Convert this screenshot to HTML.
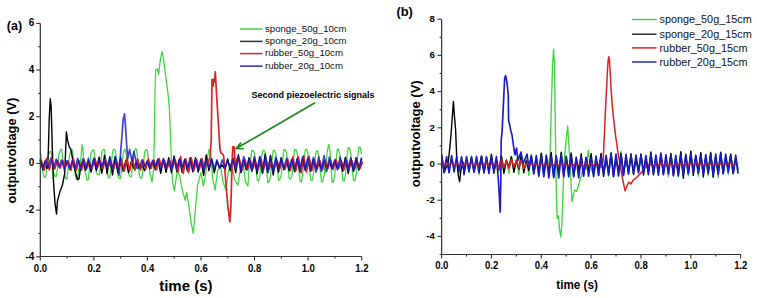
<!DOCTYPE html>
<html><head><meta charset="utf-8"><style>html,body{margin:0;padding:0;background:#fff;width:757px;height:298px;overflow:hidden}svg{display:block}</style></head>
<body>
<svg width="757" height="298" viewBox="0 0 757 298">
<style>
text{font-family:"Liberation Sans",sans-serif;fill:#000}
.tk{font-weight:bold}
.lg{font-weight:normal;fill:#111}
</style>
<rect width="757" height="298" fill="#fff"/>
<path d="M40.2,151.0 L41.5,159.2 L42.9,172.7 L44.2,177.4 L45.6,176.9 L46.9,168.0 L48.2,155.9 L49.6,151.7 L50.9,151.3 L52.3,158.7 L53.6,172.5 L54.9,176.4 L56.3,176.4 L57.6,168.2 L58.9,154.3 L60.3,150.0 L61.6,149.1 L63.0,160.1 L64.3,172.0 L65.6,178.4 L67.0,179.2 L68.3,166.6 L69.7,153.8 L71.0,151.2 L72.3,149.9 L73.7,161.1 L75.0,173.0 L76.4,179.5 L77.7,178.5 L79.0,168.0 L79.5,175.1 L81.0,156.4 L82.0,144.7 L83.0,150.6 L84.5,170.4 L85.7,174.2 L87.1,180.1 L88.4,179.5 L89.7,166.5 L91.1,152.7 L92.4,150.6 L93.8,149.7 L95.1,160.3 L96.4,173.1 L97.8,174.7 L99.1,174.6 L100.5,166.4 L101.8,152.1 L103.1,149.4 L104.5,149.5 L105.8,159.8 L107.1,172.5 L108.5,177.8 L109.8,177.5 L111.2,165.4 L112.5,151.8 L113.8,149.3 L115.2,150.0 L116.5,160.3 L117.9,175.3 L119.2,178.3 L120.5,178.7 L121.9,165.6 L123.2,153.6 L124.6,149.3 L125.9,151.2 L127.2,161.5 L128.6,174.0 L129.9,176.3 L131.3,177.0 L132.6,165.2 L133.9,152.7 L135.3,148.8 L136.6,149.4 L137.9,161.9 L139.3,174.8 L140.6,178.4 L142.0,177.5 L143.3,165.0 L144.6,152.4 L146.0,149.5 L147.3,150.3 L148.7,160.8 L150.0,175.1 L150.5,175.1 L152.0,182.1 L153.5,170.4 L154.3,140.1 L155.0,93.4 L155.6,70.0 L157.3,68.9 L158.6,74.7 L160.2,60.7 L162.1,51.4 L163.5,58.4 L165.5,74.7 L168.0,93.4 L169.3,107.4 L170.5,135.4 L171.4,159.9 L172.5,182.1 L174.4,190.9 L177.1,171.6 L179.5,175.1 L182.0,189.1 L185.2,200.3 L186.5,192.3 L188.5,203.1 L191.0,221.8 L193.3,233.4 L195.5,207.7 L197.7,184.4 L200.9,172.7 L203.4,186.0 L205.5,175.1 L207.5,156.4 L209.2,149.4 L210.5,150.6 L212.5,177.4 L215.1,190.2 L217.6,170.4 L220.5,165.7 L223.0,182.1 L226.0,190.2 L228.5,170.4 L231.5,163.4 L234.5,179.7 L237.9,185.3 L240.5,168.1 L242.9,161.1 L245.5,182.1 L247.9,186.0 L249.5,161.1 L250.4,160.9 L251.8,150.4 L253.1,150.6 L254.4,152.7 L255.8,165.3 L257.1,179.7 L258.5,181.2 L259.8,176.7 L261.1,160.6 L262.5,151.4 L263.8,150.2 L265.2,153.3 L266.5,166.6 L267.8,182.6 L269.2,181.5 L270.5,176.2 L271.8,162.2 L273.2,150.6 L274.5,150.5 L275.9,153.5 L277.2,167.0 L278.5,180.5 L279.9,178.9 L281.2,175.4 L282.6,160.9 L283.9,149.4 L285.2,149.9 L286.6,152.5 L287.9,166.5 L289.3,178.9 L290.6,179.1 L291.9,175.7 L293.3,159.7 L294.6,149.6 L295.9,149.5 L297.3,153.7 L298.6,167.6 L300.0,180.9 L301.3,182.1 L302.6,174.6 L304.0,160.4 L305.3,149.8 L306.7,149.1 L308.0,153.8 L309.3,167.6 L310.7,180.2 L312.0,180.8 L313.4,174.7 L314.7,159.6 L316.0,152.1 L317.4,150.3 L318.7,155.9 L320.1,168.9 L321.4,181.8 L322.7,181.8 L324.1,175.3 L325.4,159.9 L325.5,172.7 L327.2,151.7 L328.7,144.3 L330.0,150.6 L331.5,172.7 L332.1,182.3 L333.4,181.7 L334.8,174.8 L336.1,160.5 L337.5,148.6 L338.8,150.2 L340.1,155.6 L341.5,168.5 L342.8,180.3 L344.2,181.3 L345.5,174.3 L346.8,159.0 L348.2,147.6 L349.5,147.9 L350.8,154.4 L352.2,169.5 L353.5,180.2 L354.9,180.9 L356.2,173.4 L357.5,158.8 L358.9,147.0 L360.2,147.4 L361.6,154.1" fill="none" stroke="#3ad63a" stroke-width="1.25" stroke-linejoin="round"/>
<path d="M40.2,160.3 L42.9,169.7 L45.0,161.1 L46.5,168.1 L47.5,168.1 L48.3,151.7 L49.3,116.7 L50.3,98.7 L51.2,107.4 L52.2,144.7 L53.2,177.4 L55.0,203.1 L56.5,214.0 L57.5,200.7 L60.0,191.4 L62.4,185.3 L63.5,179.7 L64.7,173.4 L66.4,131.9 L67.5,140.1 L69.4,147.1 L70.9,149.4 L72.5,158.7 L75.0,170.4 L77.5,179.7 L79.0,178.6 L80.5,168.1 L82.0,163.4 L83.0,162.0 L85.7,170.2 L88.4,160.8 L91.1,172.1 L93.8,159.4 L96.4,170.5 L99.1,157.2 L101.8,173.4 L104.5,155.2 L107.1,173.5 L109.8,156.8 L112.5,175.0 L115.2,156.8 L117.9,172.7 L120.5,157.2 L123.2,171.3 L125.9,160.1 L128.6,172.7 L131.3,161.7 L133.9,168.4 L136.6,161.2 L139.3,168.0 L142.0,164.5 L144.6,170.7 L147.3,161.7 L150.0,168.8 L152.7,161.3 L155.4,169.9 L158.0,159.2 L160.7,173.4 L163.4,159.5 L166.1,172.3 L168.7,157.7 L171.4,172.7 L174.1,155.9 L176.8,171.6 L179.5,158.7 L182.1,172.4 L184.8,159.3 L187.5,171.1 L190.2,157.7 L192.8,171.8 L195.5,157.8 L198.2,172.0 L200.9,159.8 L203.6,175.4 L206.2,155.0 L208.9,170.6 L211.6,158.7 L214.3,172.5 L216.9,161.2 L219.6,168.0 L222.3,164.8 L225.0,169.7 L227.7,159.0 L230.3,170.9 L233.0,158.1 L235.7,172.6 L238.4,154.8 L241.0,172.6 L243.7,161.2 L246.4,169.7 L249.1,157.8 L251.8,171.0 L254.4,158.1 L257.1,173.7 L259.8,157.3 L262.5,173.1 L265.2,154.0 L267.8,172.6 L270.5,155.4 L273.2,175.0 L275.9,158.5 L278.5,172.0 L281.2,157.6 L283.9,169.9 L286.6,161.1 L289.3,170.8 L291.9,159.6 L294.6,171.7 L297.3,159.0 L300.0,171.8 L302.6,158.8 L305.3,170.4 L308.0,159.1 L310.7,170.9 L313.4,159.4 L316.0,168.8 L318.7,163.6 L321.4,168.2 L324.1,160.9 L326.7,167.6 L329.4,162.3 L332.1,168.7 L334.8,160.7 L337.5,168.7 L340.1,162.6 L342.8,171.3 L345.5,157.1 L348.2,173.5 L350.8,159.2 L353.5,170.8 L356.2,157.7 L358.9,170.1 L361.6,158.5" fill="none" stroke="#000000" stroke-width="1.4" stroke-linejoin="round"/>
<path d="M41.3,160.2 L44.0,170.2 L46.7,158.5 L49.3,169.8 L52.0,158.9 L54.7,169.0 L57.4,160.5 L60.0,168.2 L62.7,160.9 L65.4,167.2 L68.1,160.8 L70.8,170.3 L73.4,158.8 L76.1,170.5 L78.8,160.4 L81.5,170.2 L84.1,159.7 L86.8,168.5 L89.5,162.8 L92.2,168.1 L94.9,158.4 L97.5,167.7 L100.2,160.8 L102.9,168.5 L105.6,160.0 L108.2,167.2 L110.9,161.5 L113.6,169.2 L116.3,160.0 L119.0,168.1 L121.6,160.5 L124.3,170.7 L127.0,158.1 L129.7,170.9 L132.4,157.9 L135.0,170.1 L137.7,159.0 L140.4,170.0 L143.1,160.2 L145.7,169.2 L148.4,158.9 L151.1,168.3 L153.8,160.0 L156.5,169.6 L159.1,158.7 L161.8,166.9 L164.5,160.6 L167.2,168.1 L169.8,160.6 L172.5,168.5 L175.2,159.7 L177.9,172.1 L180.6,156.6 L183.2,173.3 L185.9,158.8 L188.6,172.4 L191.3,157.9 L193.9,170.3 L196.6,159.5 L199.3,169.4 L202.0,158.6 L204.7,169.1 L207.3,160.4 L208.0,163.4 L210.0,156.4 L211.2,140.1 L211.7,105.1 L212.0,79.4 L213.0,86.4 L213.5,79.4 L214.5,81.7 L215.3,71.9 L216.5,93.4 L218.8,130.0 L220.0,149.4 L221.0,152.9 L222.5,154.1 L223.5,155.2 L224.7,168.1 L226.0,184.4 L228.0,207.7 L229.9,221.8 L230.8,207.7 L231.5,184.4 L232.3,156.4 L232.9,146.6 L234.2,147.1 L235.0,161.1 L235.8,168.1 L237.0,158.7 L239.5,159.5 L242.1,170.2 L244.8,159.4 L247.5,169.7 L250.2,159.7 L252.9,168.7 L255.5,161.7 L258.2,169.1 L260.9,159.0 L263.6,169.5 L266.3,160.0 L268.9,169.7 L271.6,162.4 L274.3,168.5 L277.0,160.5 L279.6,169.2 L282.3,161.9 L285.0,169.3 L287.7,159.0 L290.4,170.3 L293.0,156.9 L295.7,171.4 L298.4,156.9 L301.1,172.9 L303.7,155.9 L306.4,172.2 L309.1,156.4 L311.8,170.5 L314.5,159.6 L317.1,169.3 L319.8,160.8 L322.5,169.8 L325.2,160.7 L327.8,168.8 L330.5,160.1 L333.2,169.4 L335.9,159.4 L338.6,168.5 L341.2,160.6 L343.9,169.8 L346.6,159.8 L349.3,168.2 L351.9,160.9 L354.6,169.0 L357.3,161.5 L360.0,168.5 L362.7,161.5" fill="none" stroke="#dc2222" stroke-width="1.7" stroke-linejoin="round"/>
<path d="M40.2,159.3 L42.9,167.9 L45.6,160.3 L48.2,167.4 L50.9,158.1 L53.6,167.8 L56.3,159.1 L58.9,166.6 L61.6,160.0 L64.3,168.7 L67.0,160.7 L69.7,169.3 L72.3,160.2 L75.0,169.6 L77.7,158.4 L80.4,169.5 L83.0,158.8 L85.7,169.4 L88.4,158.4 L91.1,169.1 L93.8,158.2 L96.4,168.2 L99.1,160.3 L101.8,166.7 L104.5,159.4 L107.1,167.6 L109.8,158.5 L112.5,169.3 L115.2,156.8 L117.5,168.1 L119.0,175.1 L120.4,156.4 L121.2,144.7 L122.1,134.2 L123.2,119.1 L124.5,113.9 L125.5,126.1 L126.8,147.1 L127.8,158.7 L129.6,149.4 L131.0,156.4 L132.0,161.1 L133.9,151.7 L135.5,158.7 L137.0,168.1 L139.3,167.7 L142.0,159.8 L144.6,166.2 L147.3,161.0 L150.0,166.8 L152.7,160.3 L155.4,165.9 L158.0,159.4 L160.7,168.2 L163.4,158.5 L166.1,169.1 L168.7,159.6 L171.4,169.8 L174.1,158.1 L176.8,168.3 L179.5,159.3 L182.1,168.2 L184.8,159.6 L187.5,168.2 L190.2,160.1 L192.8,169.8 L195.5,159.3 L198.2,170.5 L200.9,159.2 L203.6,170.1 L206.2,159.5 L208.9,167.7 L211.6,159.2 L214.3,168.9 L216.9,159.9 L219.6,168.0 L222.3,160.0 L225.0,167.3 L227.7,161.1 L230.3,166.8 L233.0,159.3 L235.7,168.9 L238.4,156.7 L241.0,171.3 L243.7,156.5 L246.4,169.7 L249.1,158.3 L251.8,170.9 L254.4,156.7 L257.1,170.5 L259.8,156.5 L262.5,172.8 L265.2,155.8 L267.8,172.4 L270.5,157.0 L273.2,172.0 L275.9,157.2 L278.5,169.5 L281.2,158.5 L283.9,168.6 L286.6,158.4 L289.3,168.9 L291.9,159.0 L294.6,170.3 L297.3,158.5 L300.0,169.9 L302.6,156.9 L305.3,169.8 L308.0,157.3 L310.7,171.1 L313.4,157.5 L316.0,172.1 L318.7,156.8 L321.4,171.4 L324.1,155.6 L326.7,171.3 L329.4,157.1 L332.1,168.5 L334.8,159.9 L337.5,169.8 L340.1,157.2 L342.8,168.8 L345.5,158.6 L348.2,171.0 L350.8,157.7 L353.5,171.2 L356.2,158.5 L358.9,169.5 L361.6,157.5" fill="none" stroke="#1a1ac8" stroke-width="1.7" stroke-linejoin="round" stroke-opacity="0.82"/>
<path d="M441.6,156.5 L444.1,169.0 L446.6,160.5 L449.1,173.1 L451.6,155.3 L454.1,169.7 L456.6,159.0 L459.0,173.4 L461.5,156.4 L464.0,168.5 L466.5,159.7 L469.0,172.3 L471.5,156.0 L474.0,169.4 L476.5,157.8 L479.0,174.5 L481.5,155.7 L484.0,170.1 L486.5,160.0 L488.9,172.6 L491.4,157.2 L493.9,170.0 L496.4,160.1 L498.9,172.2 L501.4,155.4 L503.9,168.0 L506.4,159.4 L508.9,173.4 L511.4,156.3 L513.9,170.3 L516.4,158.9 L518.9,174.3 L521.3,155.6 L523.8,170.9 L526.3,159.0 L528.8,175.3 L531.3,154.1 L533.8,169.0 L536.3,157.2 L538.8,177.4 L541.3,154.1 L543.8,171.7 L546.0,160.4 L548.0,169.4 L550.0,154.9 L551.5,100.6 L552.5,66.3 L553.6,49.1 L554.5,64.4 L555.6,145.9 L556.3,191.2 L557.2,218.3 L557.8,218.3 L558.5,215.6 L559.5,229.2 L560.8,236.9 L562.0,221.9 L563.0,191.2 L564.0,164.0 L565.5,145.9 L567.7,126.0 L569.5,154.9 L571.0,182.1 L572.0,201.6 L574.5,190.1 L576.7,191.5 L580.0,180.3 L583.0,169.4 L586.0,169.4 L588.3,150.2 L590.0,164.0 L592.0,171.2 L593.6,172.8 L596.1,156.7 L598.6,175.6 L601.1,153.6 L603.6,170.9 L606.1,157.4 L608.6,176.2 L611.1,152.1 L613.5,173.7 L616.0,154.6 L618.5,176.5 L621.0,151.2 L623.5,172.4 L626.0,157.4 L628.5,174.3 L631.0,155.4 L633.5,169.5 L636.0,159.2 L638.5,173.8 L641.0,154.7 L643.5,170.5 L645.9,159.8 L648.4,173.0 L650.9,154.7 L653.4,170.4 L655.9,159.0 L658.4,173.8 L660.9,154.6 L663.4,169.5 L665.9,159.2 L668.4,176.5 L670.9,153.7 L673.4,171.4 L675.8,156.7 L678.3,176.8 L680.8,152.7 L683.3,172.2 L685.8,156.8 L688.3,175.9 L690.8,153.2 L693.3,171.4 L695.8,156.9 L698.3,176.1 L700.8,153.7 L703.3,171.3 L705.8,157.5 L708.2,175.9 L710.7,152.0 L713.2,172.2 L715.7,155.7 L718.2,177.7 L720.7,151.6 L723.2,173.4 L725.7,157.0 L728.2,174.5 L730.7,153.7 L733.2,171.2 L735.7,159.4 L738.1,173.9" fill="none" stroke="#3ad63a" stroke-width="1.3" stroke-linejoin="round"/>
<path d="M441.6,154.4 L444.1,172.8 L446.0,167.6 L448.0,164.0 L450.0,145.9 L451.4,129.6 L453.4,101.4 L454.5,116.9 L455.6,129.6 L457.0,164.0 L458.5,176.7 L459.6,181.6 L461.0,169.4 L463.0,162.2 L464.0,174.7 L466.5,159.9 L469.0,168.8 L471.5,157.8 L474.0,171.5 L476.5,161.8 L479.0,167.1 L481.5,156.2 L484.0,172.6 L486.5,158.2 L488.9,170.1 L491.4,154.3 L493.9,173.2 L496.4,159.7 L498.9,169.5 L501.4,155.9 L503.9,173.4 L506.4,160.3 L508.9,167.0 L511.4,156.6 L513.9,172.4 L516.4,160.4 L518.9,169.1 L521.3,154.5 L523.8,172.9 L526.3,160.9 L528.8,170.3 L531.3,156.0 L533.8,173.3 L536.3,159.2 L538.8,170.7 L541.3,153.2 L543.8,175.5 L546.3,156.7 L548.8,173.7 L551.2,152.5 L553.7,176.3 L556.2,157.6 L558.7,172.8 L561.2,152.1 L563.7,175.3 L566.2,157.3 L568.7,172.1 L571.2,152.9 L573.7,175.9 L576.2,158.7 L578.7,171.0 L581.2,153.8 L583.6,175.0 L586.1,157.7 L588.6,170.8 L591.1,153.5 L593.6,174.7 L596.1,160.0 L598.6,170.7 L601.1,153.4 L603.6,176.4 L606.1,158.3 L608.6,171.7 L611.1,153.0 L613.5,176.9 L616.0,158.5 L618.5,170.6 L621.0,153.4 L623.5,174.4 L626.0,158.1 L628.5,171.5 L631.0,153.8 L633.5,174.2 L636.0,159.3 L638.5,170.8 L641.0,153.9 L643.5,175.0 L645.9,158.0 L648.4,171.8 L650.9,152.0 L653.4,174.8 L655.9,158.8 L658.4,171.0 L660.9,154.2 L663.4,174.5 L665.9,158.9 L668.4,170.6 L670.9,153.5 L673.4,176.0 L675.8,158.2 L678.3,172.9 L680.8,151.7 L683.3,178.3 L685.8,155.7 L688.3,173.2 L690.8,151.3 L693.3,175.4 L695.8,156.6 L698.3,171.8 L700.8,152.6 L703.3,177.0 L705.8,156.5 L708.2,172.5 L710.7,152.7 L713.2,177.2 L715.7,157.5 L718.2,171.9 L720.7,152.6 L723.2,173.5 L725.7,157.7 L728.2,169.4 L730.7,154.3 L733.2,173.7 L735.7,158.8 L738.1,169.6" fill="none" stroke="#000000" stroke-width="1.4" stroke-linejoin="round"/>
<path d="M441.6,162.9 L444.1,165.7 L446.6,162.8 L449.1,165.6 L451.6,162.7 L454.1,166.3 L456.6,163.1 L459.0,164.9 L461.5,163.6 L464.0,166.0 L466.5,162.3 L469.0,165.4 L471.5,162.5 L474.0,166.8 L476.5,163.0 L479.0,166.3 L481.5,163.8 L484.0,165.4 L486.5,162.4 L488.9,166.4 L491.4,163.7 L493.9,165.9 L496.4,163.1 L498.9,168.7 L501.4,159.5 L503.9,167.6 L506.4,160.9 L508.9,168.2 L511.4,159.5 L513.9,166.7 L516.4,161.0 L518.9,167.8 L521.3,160.0 L523.8,168.6 L526.3,163.4 L528.8,164.9 L531.3,163.5 L533.8,165.8 L536.3,163.8 L538.8,166.0 L541.3,162.7 L543.8,166.1 L546.3,163.8 L548.8,166.0 L551.2,162.1 L553.7,165.5 L556.2,163.4 L558.7,165.5 L561.2,162.8 L563.7,165.6 L566.2,164.1 L568.7,165.5 L571.2,163.2 L573.7,165.2 L576.2,163.8 L578.7,165.0 L581.2,163.4 L583.6,166.6 L586.1,162.4 L588.6,165.9 L591.1,162.9 L593.6,165.7 L596.1,162.5 L598.6,165.0 L600.0,162.2 L601.5,167.6 L603.2,160.4 L604.5,131.4 L605.5,110.1 L606.6,88.0 L607.4,71.7 L608.1,60.8 L608.8,56.8 L609.5,60.8 L610.3,73.5 L611.2,91.6 L612.7,110.1 L615.0,131.4 L617.6,150.2 L620.0,164.0 L622.5,178.5 L625.1,190.8 L627.0,185.7 L629.0,182.1 L631.0,183.9 L633.0,180.3 L636.0,178.1 L640.0,174.0 L645.0,168.0 L650.0,164.0 L650.9,164.4 L653.4,166.2 L655.9,163.0 L658.4,166.0 L660.9,162.0 L663.4,165.6 L665.9,162.9 L668.4,166.2 L670.9,163.7 L673.4,166.0 L675.8,163.4 L678.3,165.8 L680.8,162.9 L683.3,165.5 L685.8,162.5 L688.3,166.4 L690.8,163.0 L693.3,165.5 L695.8,162.2 L698.3,165.8 L700.8,162.9 L703.3,166.1 L705.8,162.9 L708.2,165.4 L710.7,163.4 L713.2,165.9 L715.7,163.1 L718.2,165.3 L720.7,163.7 L723.2,165.1 L725.7,163.3 L728.2,164.6 L730.7,162.3 L733.2,165.9 L735.7,163.4 L738.1,164.3" fill="none" stroke="#dc2222" stroke-width="1.5" stroke-linejoin="round"/>
<path d="M441.6,156.1 L444.1,171.8 L446.6,156.7 L449.1,172.5 L451.6,155.9 L454.1,171.9 L456.6,156.8 L459.0,171.0 L461.5,157.1 L464.0,172.2 L466.5,156.6 L469.0,171.6 L471.5,157.1 L474.0,172.3 L476.5,156.4 L479.0,172.8 L481.5,156.7 L484.0,172.8 L486.5,156.7 L488.9,173.4 L491.4,156.9 L493.9,171.2 L496.4,156.6 L497.0,164.0 L498.5,182.1 L500.2,212.1 L500.8,182.1 L501.2,139.9 L502.1,131.4 L503.6,100.6 L504.1,89.8 L504.6,78.9 L505.6,75.5 L507.0,82.5 L508.3,95.2 L508.6,120.6 L510.0,126.0 L510.5,129.6 L512.0,135.0 L514.0,149.5 L515.0,154.9 L516.5,148.1 L518.0,160.4 L521.0,152.1 L523.0,164.0 L527.0,154.0 L529.0,167.6 L531.3,156.2 L533.8,173.9 L536.3,155.6 L538.8,175.8 L541.3,155.4 L543.8,176.6 L546.3,155.1 L548.8,177.9 L551.2,156.5 L553.7,177.7 L556.2,155.6 L558.7,177.9 L561.2,155.1 L563.7,176.9 L566.2,156.2 L568.7,176.8 L571.2,156.9 L573.7,177.0 L576.2,157.2 L578.7,177.9 L581.2,157.7 L583.6,176.2 L586.1,157.3 L588.6,176.2 L591.1,157.7 L593.6,176.6 L596.1,156.1 L598.6,175.5 L601.1,156.3 L603.6,174.3 L606.1,155.3 L608.6,175.0 L611.1,154.2 L613.5,175.9 L616.0,154.0 L618.5,175.8 L621.0,154.8 L623.5,175.5 L626.0,154.4 L628.5,173.9 L631.0,155.5 L633.5,173.5 L636.0,155.0 L638.5,172.5 L641.0,155.1 L643.5,173.2 L645.9,155.5 L648.4,174.7 L650.9,154.7 L653.4,173.5 L655.9,155.0 L658.4,175.2 L660.9,153.1 L663.4,174.7 L665.9,154.8 L668.4,174.0 L670.9,155.0 L673.4,175.2 L675.8,155.4 L678.3,175.8 L680.8,155.1 L683.3,174.8 L685.8,154.3 L688.3,173.8 L690.8,154.3 L693.3,172.5 L695.8,155.2 L698.3,173.3 L700.8,155.4 L703.3,173.8 L705.8,154.6 L708.2,173.5 L710.7,155.2 L713.2,174.6 L715.7,154.1 L718.2,174.4 L720.7,154.1 L723.2,174.0 L725.7,154.0 L728.2,172.2 L730.7,156.2 L733.2,173.3 L735.7,155.2 L738.1,173.3" fill="none" stroke="#1a1ac8" stroke-width="1.65" stroke-linejoin="round"/>
<path d="M441.6,162.9 L444.1,165.7 L446.6,162.8 L449.1,165.6 L451.6,162.7 L454.1,166.3 L456.6,163.1 L459.0,164.9 L461.5,163.6 L464.0,166.0 L466.5,162.3 L469.0,165.4 L471.5,162.5 L474.0,166.8 L476.5,163.0 L479.0,166.3 L481.5,163.8 L484.0,165.4 L486.5,162.4 L488.9,166.4 L491.4,163.7 L493.9,165.9 L496.4,163.1 L498.9,168.7 L501.4,159.5 L503.9,167.6 L506.4,160.9 L508.9,168.2 L511.4,159.5 L513.9,166.7 L516.4,161.0 L518.9,167.8 L521.3,160.0 L523.8,168.6 L526.3,163.4 L528.8,164.9 L531.3,163.5 L533.8,165.8 L536.3,163.8 L538.8,166.0 L541.3,162.7 L543.8,166.1 L546.3,163.8 L548.8,166.0 L551.2,162.1 L553.7,165.5 L556.2,163.4 L558.7,165.5 L561.2,162.8 L563.7,165.6 L566.2,164.1 L568.7,165.5 L571.2,163.2 L573.7,165.2 L576.2,163.8 L578.7,165.0 L581.2,163.4 L583.6,166.6 L586.1,162.4 L588.6,165.9 L591.1,162.9 L593.6,165.7 L596.1,162.5 M653.4,166.2 L655.9,163.0 L658.4,166.0 L660.9,162.0 L663.4,165.6 L665.9,162.9 L668.4,166.2 L670.9,163.7 L673.4,166.0 L675.8,163.4 L678.3,165.8 L680.8,162.9 L683.3,165.5 L685.8,162.5 L688.3,166.4 L690.8,163.0 L693.3,165.5 L695.8,162.2 L698.3,165.8 L700.8,162.9 L703.3,166.1 L705.8,162.9 L708.2,165.4 L710.7,163.4 L713.2,165.9 L715.7,163.1 L718.2,165.3 L720.7,163.7 L723.2,165.1 L725.7,163.3 L728.2,164.6 L730.7,162.3 L733.2,165.9 L735.7,163.4 L738.1,164.3" fill="none" stroke="#dc2222" stroke-width="1.3" stroke-linejoin="round" stroke-opacity="0.55"/>
<path d="M40.3,23.4 V256.5 H361.7" fill="none" stroke="#303030" stroke-width="1.2"/>
<line x1="36.3" y1="256.8" x2="40.3" y2="256.8" stroke="#303030" stroke-width="1.1"/>
<line x1="38.3" y1="233.4" x2="40.3" y2="233.4" stroke="#303030" stroke-width="1.1"/>
<line x1="36.3" y1="210.1" x2="40.3" y2="210.1" stroke="#303030" stroke-width="1.1"/>
<line x1="38.3" y1="186.7" x2="40.3" y2="186.7" stroke="#303030" stroke-width="1.1"/>
<line x1="36.3" y1="163.4" x2="40.3" y2="163.4" stroke="#303030" stroke-width="1.1"/>
<line x1="38.3" y1="140.1" x2="40.3" y2="140.1" stroke="#303030" stroke-width="1.1"/>
<line x1="36.3" y1="116.7" x2="40.3" y2="116.7" stroke="#303030" stroke-width="1.1"/>
<line x1="38.3" y1="93.4" x2="40.3" y2="93.4" stroke="#303030" stroke-width="1.1"/>
<line x1="36.3" y1="70.0" x2="40.3" y2="70.0" stroke="#303030" stroke-width="1.1"/>
<line x1="38.3" y1="46.7" x2="40.3" y2="46.7" stroke="#303030" stroke-width="1.1"/>
<line x1="36.3" y1="23.4" x2="40.3" y2="23.4" stroke="#303030" stroke-width="1.1"/>
<line x1="40.3" y1="256.5" x2="40.3" y2="260.5" stroke="#303030" stroke-width="1.1"/>
<line x1="67.1" y1="256.5" x2="67.1" y2="258.5" stroke="#303030" stroke-width="1.1"/>
<line x1="93.9" y1="256.5" x2="93.9" y2="260.5" stroke="#303030" stroke-width="1.1"/>
<line x1="120.6" y1="256.5" x2="120.6" y2="258.5" stroke="#303030" stroke-width="1.1"/>
<line x1="147.4" y1="256.5" x2="147.4" y2="260.5" stroke="#303030" stroke-width="1.1"/>
<line x1="174.2" y1="256.5" x2="174.2" y2="258.5" stroke="#303030" stroke-width="1.1"/>
<line x1="201.0" y1="256.5" x2="201.0" y2="260.5" stroke="#303030" stroke-width="1.1"/>
<line x1="227.8" y1="256.5" x2="227.8" y2="258.5" stroke="#303030" stroke-width="1.1"/>
<line x1="254.5" y1="256.5" x2="254.5" y2="260.5" stroke="#303030" stroke-width="1.1"/>
<line x1="281.3" y1="256.5" x2="281.3" y2="258.5" stroke="#303030" stroke-width="1.1"/>
<line x1="308.1" y1="256.5" x2="308.1" y2="260.5" stroke="#303030" stroke-width="1.1"/>
<line x1="334.9" y1="256.5" x2="334.9" y2="258.5" stroke="#303030" stroke-width="1.1"/>
<line x1="361.7" y1="256.5" x2="361.7" y2="260.5" stroke="#303030" stroke-width="1.1"/>
<text x="34.4" y="26.2" text-anchor="end" class="tk" style="font-size:10px">6</text>
<text x="34.4" y="72.8" text-anchor="end" class="tk" style="font-size:10px">4</text>
<text x="34.4" y="119.5" text-anchor="end" class="tk" style="font-size:10px">2</text>
<text x="34.4" y="166.2" text-anchor="end" class="tk" style="font-size:10px">0</text>
<text x="34.4" y="212.9" text-anchor="end" class="tk" style="font-size:10px">-2</text>
<text x="34.4" y="259.6" text-anchor="end" class="tk" style="font-size:10px">-4</text>
<text x="40.5" y="271.5" text-anchor="middle" class="tk" style="font-size:10px" textLength="13.3" lengthAdjust="spacingAndGlyphs">0.0</text>
<text x="94.1" y="271.5" text-anchor="middle" class="tk" style="font-size:10px" textLength="13.3" lengthAdjust="spacingAndGlyphs">0.2</text>
<text x="147.6" y="271.5" text-anchor="middle" class="tk" style="font-size:10px" textLength="13.3" lengthAdjust="spacingAndGlyphs">0.4</text>
<text x="201.2" y="271.5" text-anchor="middle" class="tk" style="font-size:10px" textLength="13.3" lengthAdjust="spacingAndGlyphs">0.6</text>
<text x="254.7" y="271.5" text-anchor="middle" class="tk" style="font-size:10px" textLength="13.3" lengthAdjust="spacingAndGlyphs">0.8</text>
<text x="308.3" y="271.5" text-anchor="middle" class="tk" style="font-size:10px" textLength="13.3" lengthAdjust="spacingAndGlyphs">1.0</text>
<text x="361.9" y="271.5" text-anchor="middle" class="tk" style="font-size:10px" textLength="13.3" lengthAdjust="spacingAndGlyphs">1.2</text>
<path d="M441.6,19.2 V254.5 H740.6" fill="none" stroke="#303030" stroke-width="1.2"/>
<line x1="439.6" y1="254.5" x2="441.6" y2="254.5" stroke="#303030" stroke-width="1.1"/>
<line x1="437.6" y1="236.4" x2="441.6" y2="236.4" stroke="#303030" stroke-width="1.1"/>
<line x1="439.6" y1="218.3" x2="441.6" y2="218.3" stroke="#303030" stroke-width="1.1"/>
<line x1="437.6" y1="200.2" x2="441.6" y2="200.2" stroke="#303030" stroke-width="1.1"/>
<line x1="439.6" y1="182.1" x2="441.6" y2="182.1" stroke="#303030" stroke-width="1.1"/>
<line x1="437.6" y1="164.0" x2="441.6" y2="164.0" stroke="#303030" stroke-width="1.1"/>
<line x1="439.6" y1="145.9" x2="441.6" y2="145.9" stroke="#303030" stroke-width="1.1"/>
<line x1="437.6" y1="127.8" x2="441.6" y2="127.8" stroke="#303030" stroke-width="1.1"/>
<line x1="439.6" y1="109.7" x2="441.6" y2="109.7" stroke="#303030" stroke-width="1.1"/>
<line x1="437.6" y1="91.6" x2="441.6" y2="91.6" stroke="#303030" stroke-width="1.1"/>
<line x1="439.6" y1="73.5" x2="441.6" y2="73.5" stroke="#303030" stroke-width="1.1"/>
<line x1="437.6" y1="55.4" x2="441.6" y2="55.4" stroke="#303030" stroke-width="1.1"/>
<line x1="439.6" y1="37.3" x2="441.6" y2="37.3" stroke="#303030" stroke-width="1.1"/>
<line x1="437.6" y1="19.2" x2="441.6" y2="19.2" stroke="#303030" stroke-width="1.1"/>
<line x1="441.6" y1="254.5" x2="441.6" y2="258.5" stroke="#303030" stroke-width="1.1"/>
<line x1="466.5" y1="254.5" x2="466.5" y2="256.5" stroke="#303030" stroke-width="1.1"/>
<line x1="491.4" y1="254.5" x2="491.4" y2="258.5" stroke="#303030" stroke-width="1.1"/>
<line x1="516.4" y1="254.5" x2="516.4" y2="256.5" stroke="#303030" stroke-width="1.1"/>
<line x1="541.3" y1="254.5" x2="541.3" y2="258.5" stroke="#303030" stroke-width="1.1"/>
<line x1="566.2" y1="254.5" x2="566.2" y2="256.5" stroke="#303030" stroke-width="1.1"/>
<line x1="591.1" y1="254.5" x2="591.1" y2="258.5" stroke="#303030" stroke-width="1.1"/>
<line x1="616.0" y1="254.5" x2="616.0" y2="256.5" stroke="#303030" stroke-width="1.1"/>
<line x1="641.0" y1="254.5" x2="641.0" y2="258.5" stroke="#303030" stroke-width="1.1"/>
<line x1="665.9" y1="254.5" x2="665.9" y2="256.5" stroke="#303030" stroke-width="1.1"/>
<line x1="690.8" y1="254.5" x2="690.8" y2="258.5" stroke="#303030" stroke-width="1.1"/>
<line x1="715.7" y1="254.5" x2="715.7" y2="256.5" stroke="#303030" stroke-width="1.1"/>
<line x1="740.6" y1="254.5" x2="740.6" y2="258.5" stroke="#303030" stroke-width="1.1"/>
<text x="434.9" y="21.9" text-anchor="end" class="tk" style="font-size:9.6px">8</text>
<text x="434.9" y="58.1" text-anchor="end" class="tk" style="font-size:9.6px">6</text>
<text x="434.9" y="94.3" text-anchor="end" class="tk" style="font-size:9.6px">4</text>
<text x="434.9" y="130.5" text-anchor="end" class="tk" style="font-size:9.6px">2</text>
<text x="434.9" y="166.7" text-anchor="end" class="tk" style="font-size:9.6px">0</text>
<text x="434.9" y="202.9" text-anchor="end" class="tk" style="font-size:9.6px">-2</text>
<text x="434.9" y="239.1" text-anchor="end" class="tk" style="font-size:9.6px">-4</text>
<text x="441.8" y="269.2" text-anchor="middle" class="tk" style="font-size:10.2px" textLength="13.3" lengthAdjust="spacingAndGlyphs">0.0</text>
<text x="491.6" y="269.2" text-anchor="middle" class="tk" style="font-size:10.2px" textLength="13.3" lengthAdjust="spacingAndGlyphs">0.2</text>
<text x="541.5" y="269.2" text-anchor="middle" class="tk" style="font-size:10.2px" textLength="13.3" lengthAdjust="spacingAndGlyphs">0.4</text>
<text x="591.3" y="269.2" text-anchor="middle" class="tk" style="font-size:10.2px" textLength="13.3" lengthAdjust="spacingAndGlyphs">0.6</text>
<text x="641.2" y="269.2" text-anchor="middle" class="tk" style="font-size:10.2px" textLength="13.3" lengthAdjust="spacingAndGlyphs">0.8</text>
<text x="691.0" y="269.2" text-anchor="middle" class="tk" style="font-size:10.2px" textLength="13.3" lengthAdjust="spacingAndGlyphs">1.0</text>
<text x="740.8" y="269.2" text-anchor="middle" class="tk" style="font-size:10.2px" textLength="13.3" lengthAdjust="spacingAndGlyphs">1.2</text>
<line x1="240" y1="29" x2="262.5" y2="29" stroke="#48cc48" stroke-width="1.5"/>
<text transform="translate(265,31.6) scale(1,1)" class="lg" style="font-size:9.6px">sponge_50g_10cm</text>
<line x1="240" y1="41.4" x2="262.5" y2="41.4" stroke="#303030" stroke-width="1.5"/>
<text transform="translate(265,44.0) scale(1,1)" class="lg" style="font-size:9.6px">sponge_20g_10cm</text>
<line x1="240" y1="53.6" x2="262.5" y2="53.6" stroke="#cc2828" stroke-width="1.5"/>
<text transform="translate(265,56.2) scale(1,1)" class="lg" style="font-size:9.6px">rubber_50g_10cm</text>
<line x1="240" y1="66.1" x2="262.5" y2="66.1" stroke="#2828b8" stroke-width="1.5"/>
<text transform="translate(265,68.7) scale(1,1)" class="lg" style="font-size:9.6px">rubber_20g_10cm</text>
<line x1="632" y1="19.5" x2="656.5" y2="19.5" stroke="#48cc48" stroke-width="1.5"/>
<text transform="translate(659.5,23.4) scale(0.968,1)" class="lg" style="font-size:11.2px">sponge_50g_15cm</text>
<line x1="632" y1="34.2" x2="656.5" y2="34.2" stroke="#303030" stroke-width="1.5"/>
<text transform="translate(659.5,38.1) scale(0.968,1)" class="lg" style="font-size:11.2px">sponge_20g_15cm</text>
<line x1="632" y1="47.9" x2="656.5" y2="47.9" stroke="#cc2828" stroke-width="1.5"/>
<text transform="translate(659.5,51.8) scale(0.968,1)" class="lg" style="font-size:11.2px">rubber_50g_15cm</text>
<line x1="632" y1="62" x2="656.5" y2="62" stroke="#2828b8" stroke-width="1.5"/>
<text transform="translate(659.5,65.9) scale(0.968,1)" class="lg" style="font-size:11.2px">rubber_20g_15cm</text>
<text x="6.8" y="29.9" style="font-size:12.5px;font-weight:bold">(a)</text>
<text x="396.4" y="16.0" style="font-size:12.8px;font-weight:bold">(b)</text>
<text x="251.5" y="98.2" style="font-size:9px;font-weight:bold">Second piezoelectric signals</text>
<g stroke="#1f8a1f" stroke-width="1.8" fill="none" stroke-linecap="round">
<line x1="314.6" y1="103" x2="236.6" y2="148.3"/>
<polyline points="240.6,143.1 236.3,148.5 243.1,148.6"/>
</g>
<text x="159.2" y="291" style="font-size:15px;font-weight:bold">time (s)</text>
<text x="556.3" y="288.6" style="font-size:13.3px;font-weight:bold" textLength="41.6" lengthAdjust="spacingAndGlyphs">time (s)</text>
<text transform="translate(16.0,203.6) rotate(-90)" style="font-size:12.9px;font-weight:bold">outputvoltage (V)</text>
<text transform="translate(419.8,187.2) rotate(-90)" style="font-size:13px;font-weight:bold">outputvoltage (V)</text>
</svg>
</body></html>
